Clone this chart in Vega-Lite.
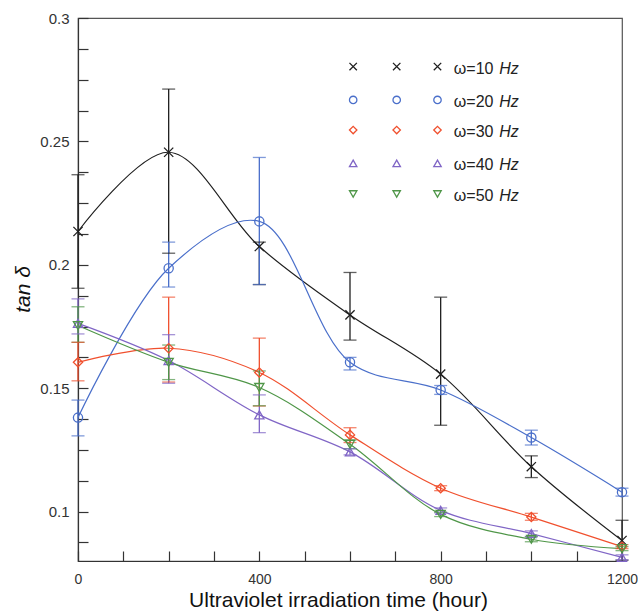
{
  "$schema": "https://vega.github.io/schema/vega-lite/v6.json",
  "autosize": {"type": "none"},
  "padding": {"left": 78, "top": 18, "right": 16, "bottom": 51},
  "width": 544,
  "height": 543,
  "background": "white",
  "config": {
    "view": {"stroke": "#555", "strokeWidth": 1.2},
    "font": "Liberation Sans",
    "axis": {"grid": false, "domainColor": "#333", "domainWidth": 1.2, "tickColor": "#333", "tickWidth": 1.2, "labelFont": "Liberation Sans", "labelFontSize": 15, "labelColor": "#333", "titleFont": "Liberation Sans", "titleColor": "#111", "titleFontWeight": "normal"}
  },
  "datasets": {
    "pts": [
      {"s": "ω=10 Hz", "t": 0, "v": 0.2135, "lo": 0.1905, "hi": 0.2365},
      {"s": "ω=10 Hz", "t": 200, "v": 0.2456, "lo": 0.2047, "hi": 0.2712},
      {"s": "ω=10 Hz", "t": 400, "v": 0.2074, "lo": 0.192, "hi": 0.2092},
      {"s": "ω=10 Hz", "t": 600, "v": 0.1797, "lo": 0.1695, "hi": 0.1969},
      {"s": "ω=10 Hz", "t": 800, "v": 0.1557, "lo": 0.135, "hi": 0.1869},
      {"s": "ω=10 Hz", "t": 1000, "v": 0.1182, "lo": 0.1138, "hi": 0.1226},
      {"s": "ω=10 Hz", "t": 1200, "v": 0.0883, "lo": 0.0803, "hi": 0.0965},
      {"s": "ω=20 Hz", "t": 0, "v": 0.1381, "lo": 0.1307, "hi": 0.1452},
      {"s": "ω=20 Hz", "t": 200, "v": 0.1986, "lo": 0.191, "hi": 0.2092},
      {"s": "ω=20 Hz", "t": 400, "v": 0.2176, "lo": 0.192, "hi": 0.2435},
      {"s": "ω=20 Hz", "t": 600, "v": 0.1605, "lo": 0.1574, "hi": 0.1625},
      {"s": "ω=20 Hz", "t": 800, "v": 0.1493, "lo": 0.1475, "hi": 0.1511},
      {"s": "ω=20 Hz", "t": 1000, "v": 0.13, "lo": 0.127, "hi": 0.133},
      {"s": "ω=20 Hz", "t": 1200, "v": 0.1079, "lo": 0.1063, "hi": 0.1095},
      {"s": "ω=30 Hz", "t": 0, "v": 0.1605, "lo": 0.153, "hi": 0.1686},
      {"s": "ω=30 Hz", "t": 200, "v": 0.1662, "lo": 0.1525, "hi": 0.1869},
      {"s": "ω=30 Hz", "t": 400, "v": 0.1564, "lo": 0.1428, "hi": 0.1703},
      {"s": "ω=30 Hz", "t": 600, "v": 0.1311, "lo": 0.128, "hi": 0.134},
      {"s": "ω=30 Hz", "t": 800, "v": 0.1095, "lo": 0.1085, "hi": 0.1105},
      {"s": "ω=30 Hz", "t": 1000, "v": 0.0978, "lo": 0.0965, "hi": 0.0993},
      {"s": "ω=30 Hz", "t": 1200, "v": 0.0858, "lo": 0.085, "hi": 0.0866},
      {"s": "ω=40 Hz", "t": 0, "v": 0.1763, "lo": 0.172, "hi": 0.1862},
      {"s": "ω=40 Hz", "t": 200, "v": 0.1612, "lo": 0.152, "hi": 0.1717},
      {"s": "ω=40 Hz", "t": 400, "v": 0.1392, "lo": 0.132, "hi": 0.1473},
      {"s": "ω=40 Hz", "t": 600, "v": 0.1242, "lo": 0.123, "hi": 0.1255},
      {"s": "ω=40 Hz", "t": 800, "v": 0.1005, "lo": 0.0995, "hi": 0.1015},
      {"s": "ω=40 Hz", "t": 1000, "v": 0.0911, "lo": 0.09, "hi": 0.0922},
      {"s": "ω=40 Hz", "t": 1200, "v": 0.0815, "lo": 0.0805, "hi": 0.0825},
      {"s": "ω=50 Hz", "t": 0, "v": 0.1754, "lo": 0.1686, "hi": 0.183},
      {"s": "ω=50 Hz", "t": 200, "v": 0.1605, "lo": 0.1535, "hi": 0.1675},
      {"s": "ω=50 Hz", "t": 400, "v": 0.1503, "lo": 0.1429, "hi": 0.157},
      {"s": "ω=50 Hz", "t": 600, "v": 0.1273, "lo": 0.1255, "hi": 0.129},
      {"s": "ω=50 Hz", "t": 800, "v": 0.0989, "lo": 0.098, "hi": 0.0998},
      {"s": "ω=50 Hz", "t": 1000, "v": 0.0888, "lo": 0.0878, "hi": 0.0898},
      {"s": "ω=50 Hz", "t": 1200, "v": 0.085, "lo": 0.0842, "hi": 0.0858}
    ],
    "leg": [
      {"s": "ω=10 Hz", "lx": 607, "ly": 0.2803},
      {"s": "ω=10 Hz", "lx": 703, "ly": 0.2803},
      {"s": "ω=10 Hz", "lx": 793, "ly": 0.2803},
      {"s": "ω=20 Hz", "lx": 607, "ly": 0.2668},
      {"s": "ω=20 Hz", "lx": 703, "ly": 0.2668},
      {"s": "ω=20 Hz", "lx": 793, "ly": 0.2668},
      {"s": "ω=30 Hz", "lx": 607, "ly": 0.2546},
      {"s": "ω=30 Hz", "lx": 703, "ly": 0.2546},
      {"s": "ω=30 Hz", "lx": 793, "ly": 0.2546},
      {"s": "ω=40 Hz", "lx": 607, "ly": 0.2411},
      {"s": "ω=40 Hz", "lx": 703, "ly": 0.2411},
      {"s": "ω=40 Hz", "lx": 793, "ly": 0.2411},
      {"s": "ω=50 Hz", "lx": 607, "ly": 0.2287},
      {"s": "ω=50 Hz", "lx": 703, "ly": 0.2287},
      {"s": "ω=50 Hz", "lx": 793, "ly": 0.2287}
    ],
    "legtext": [
      {"a": "ω=10", "b": "Hz", "tx": 829, "hx": 929, "ly": 0.2803},
      {"a": "ω=20", "b": "Hz", "tx": 829, "hx": 929, "ly": 0.2668},
      {"a": "ω=30", "b": "Hz", "tx": 829, "hx": 929, "ly": 0.2546},
      {"a": "ω=40", "b": "Hz", "tx": 829, "hx": 929, "ly": 0.2411},
      {"a": "ω=50", "b": "Hz", "tx": 829, "hx": 929, "ly": 0.2287}
    ]
  },
  "encoding": {
    "x": {
      "type": "quantitative",
      "scale": {"domain": [0, 1200], "nice": false, "zero": false},
      "axis": {
        "title": "Ultraviolet irradiation time (hour)",
        "titleFontSize": 21,
        "titleX": 260,
        "titleY": 45,
        "titleBaseline": "alphabetic",
        "titleAnchor": "middle",
        "values": [0, 100, 200, 300, 400, 500, 600, 700, 800, 900, 1000, 1100, 1200],
        "labelExpr": "datum.value % 400 == 0 ? format(datum.value, 'd') : ''",
        "tickSize": -10,
        "labelPadding": 21,
        "labelFontSize": 14,
        "labelFlush": false,
        "labelOverlap": false,
        "encode": {"ticks": {"update": {"y2": {"signal": "datum.value % 400 == 0 ? -19 : -10"}}}}
      }
    },
    "y": {
      "type": "quantitative",
      "scale": {"domain": [0.08, 0.3], "nice": false, "zero": false},
      "axis": {
        "title": "tan δ",
        "titleFontSize": 21,
        "titleFontStyle": "italic",
        "titleX": -49,
        "titleY": 271,
        "titleAngle": -90,
        "titleAlign": "center",
        "titleBaseline": "alphabetic",
        "values": [0.0875, 0.1, 0.1125, 0.125, 0.1375, 0.15, 0.1625, 0.175, 0.1875, 0.2, 0.2125, 0.225, 0.2375, 0.25, 0.2625, 0.275, 0.2875, 0.3],
        "labelExpr": "abs(datum.value*20 - round(datum.value*20)) < 0.001 ? format(datum.value, '~g') : ''",
        "tickSize": -10,
        "labelPadding": 19,
        "labelFlush": false,
        "labelOverlap": false,
        "encode": {"ticks": {"update": {"x2": {"signal": "abs(datum.value*20 - round(datum.value*20)) < 0.001 ? 19 : 10"}}}}
      }
    },
    "color": {
      "field": "s",
      "type": "nominal",
      "legend": null,
      "scale": {
        "domain": ["ω=10 Hz", "ω=20 Hz", "ω=30 Hz", "ω=40 Hz", "ω=50 Hz"],
        "range": ["#1f1f1f", "#4a6fca", "#f0502e", "#8066c6", "#4f9648"]
      }
    }
  },
  "layer": [
    {
      "data": {"name": "pts"},
      "mark": {"type": "line", "interpolate": "catmull-rom", "strokeWidth": 1.2},
      "encoding": {
        "x": {"field": "t", "type": "quantitative"},
        "y": {"field": "v", "type": "quantitative"}
      }
    },
    {
      "data": {"name": "pts"},
      "mark": {"type": "rule", "strokeWidth": 1.3},
      "encoding": {
        "x": {"field": "t", "type": "quantitative"},
        "y": {"field": "lo", "type": "quantitative"},
        "y2": {"field": "hi"}
      }
    },
    {
      "data": {"name": "pts"},
      "mark": {"type": "tick", "orient": "horizontal", "size": 13, "thickness": 1.3},
      "encoding": {
        "x": {"field": "t", "type": "quantitative"},
        "y": {"field": "lo", "type": "quantitative"}
      }
    },
    {
      "data": {"name": "pts"},
      "mark": {"type": "tick", "orient": "horizontal", "size": 13, "thickness": 1.3},
      "encoding": {
        "x": {"field": "t", "type": "quantitative"},
        "y": {"field": "hi", "type": "quantitative"}
      }
    },
    {
      "data": {"name": "pts"},
      "mark": {"type": "point", "filled": false, "strokeWidth": 1.3, "size": 85, "opacity": 1},
      "encoding": {
        "x": {"field": "t", "type": "quantitative"},
        "y": {"field": "v", "type": "quantitative"},
        "shape": {
          "field": "s", "type": "nominal", "legend": null,
          "scale": {
            "domain": ["ω=10 Hz", "ω=20 Hz", "ω=30 Hz", "ω=40 Hz", "ω=50 Hz"],
            "range": ["M-1,-1L1,1M1,-1L-1,1", "circle", "diamond", "triangle-up", "triangle-down"]
          }
        }
      }
    },
    {
      "data": {"name": "leg"},
      "mark": {"type": "point", "filled": false, "strokeWidth": 1.3, "size": 55, "opacity": 1},
      "encoding": {
        "x": {"field": "lx", "type": "quantitative"},
        "y": {"field": "ly", "type": "quantitative"},
        "shape": {"field": "s", "type": "nominal", "legend": null}
      }
    },
    {
      "data": {"name": "legtext"},
      "mark": {"type": "text", "align": "left", "baseline": "middle", "fontSize": 16, "font": "Liberation Sans", "dy": 2},
      "encoding": {
        "x": {"field": "tx", "type": "quantitative"},
        "y": {"field": "ly", "type": "quantitative"},
        "text": {"field": "a"},
        "color": {"value": "#222"}
      }
    },
    {
      "data": {"name": "legtext"},
      "mark": {"type": "text", "align": "left", "baseline": "middle", "fontSize": 16, "fontStyle": "italic", "font": "Liberation Sans", "dy": 2},
      "encoding": {
        "x": {"field": "hx", "type": "quantitative"},
        "y": {"field": "ly", "type": "quantitative"},
        "text": {"field": "b"},
        "color": {"value": "#222"}
      }
    }
  ]
}
